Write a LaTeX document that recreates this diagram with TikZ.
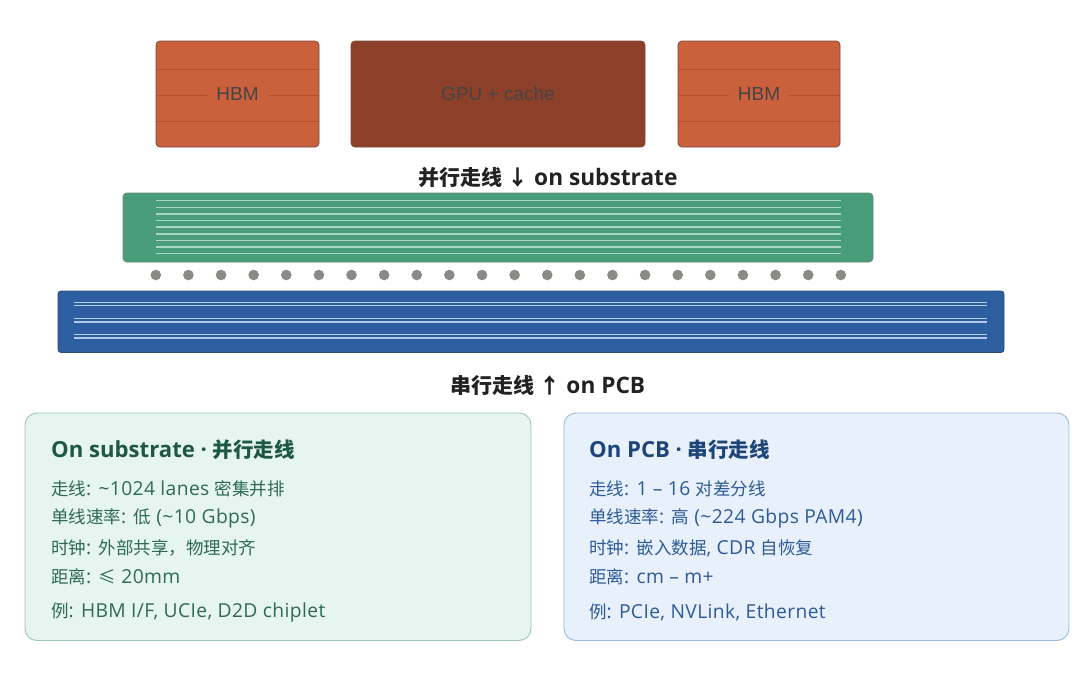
\documentclass[tikz,border=0pt]{standalone}
\usepackage{fontspec}
\setmainfont{Noto Sans CJK SC}
\newfontfamily\latfont[Scale=1.08]{Open Sans}
\newfontfamily\latbody[Scale=1.1,LetterSpace=2]{Open Sans}
\newfontfamily\chipfont{Liberation Sans}
\newcommand\La[1]{{\latfont #1}}
\newcommand\Lb[1]{{\latbody #1}}
\definecolor{hbmc}{HTML}{CB613C}
\definecolor{hbmline}{HTML}{B24F2E}
\definecolor{gpuc}{HTML}{8C4029}
\definecolor{chipborder}{HTML}{7A4A3A}
\definecolor{chiptext}{HTML}{444444}
\definecolor{subc}{HTML}{4A9D79}
\definecolor{subborder}{HTML}{5E8A76}
\definecolor{subline}{HTML}{A9D8C2}
\definecolor{dotc}{HTML}{8A8A86}
\definecolor{pcbc}{HTML}{2D5E9F}
\definecolor{pcbborder}{HTML}{2A4A78}
\definecolor{pcbline}{HTML}{B3C9E8}
\definecolor{headc}{HTML}{222222}
\definecolor{lboxfill}{HTML}{E6F5F0}
\definecolor{lboxdraw}{HTML}{9CC9B4}
\definecolor{ltitle}{HTML}{1E5842}
\definecolor{ltext}{HTML}{2E6A54}
\definecolor{rboxfill}{HTML}{E7F0FB}
\definecolor{rboxdraw}{HTML}{9BB8DE}
\definecolor{rtitle}{HTML}{1F4478}
\definecolor{rtext}{HTML}{2E5B98}
\begin{document}
\begin{tikzpicture}[x=1pt,y=-1pt,
  chip/.style={draw=chipborder, line width=0.8pt, rounded corners=4pt, minimum height=106pt, inner sep=0pt},
  chiplabel/.style={text=chiptext, font=\chipfont\fontsize{19}{21}\selectfont, inner xsep=9pt, inner ysep=3pt},
  hbmrule/.style={draw=hbmline, line width=1pt},
  heading/.style={text=headc, font=\fontsize{21}{24}\selectfont\bfseries, inner sep=0pt},
  infobox/.style={line width=0.9pt, rounded corners=12pt, inner sep=0pt},
  boxtitle/.style={anchor=west, font=\fontsize{20.5}{24}\selectfont\bfseries, inner sep=0pt},
  boxline/.style={anchor=west, font=\fontsize{17.5}{20}\selectfont, inner sep=0pt}
]
\useasboundingbox (0,0) rectangle (1080,675);
\fill[white] (0,0) rectangle (1080,675);

% ---- chips ----
\node[chip, fill=hbmc, minimum width=163pt] (hbmL) at (237.5,94) {};
\node[chip, fill=gpuc, minimum width=294pt] (gpu) at (498,94) {};
\node[chip, fill=hbmc, minimum width=162pt] (hbmR) at (759,94) {};
\foreach \c in {hbmL,hbmR}{
  \draw[hbmrule] ([yshift=-27pt]\c.west) -- ([yshift=-27pt]\c.east);
  \draw[hbmrule] ([yshift=-1pt]\c.west) -- ([yshift=-1pt]\c.east);
  \draw[hbmrule] ([yshift=25pt]\c.west) -- ([yshift=25pt]\c.east);
}
\node[chiplabel, fill=hbmc] (hbmLt) at (hbmL.center) {HBM};
\node[chiplabel] (gput) at (gpu.center) {GPU + cache};
\node[chiplabel, fill=hbmc] (hbmRt) at (hbmR.center) {HBM};

% ---- substrate ----
\node[heading] (subhead) at (548,178) {并行走线 ↓\La{ on substrate}};
\draw[fill=subc, draw=subborder, line width=0.8pt, rounded corners=4pt] (123,193) rectangle (873,262);
\foreach \i in {0,...,8}{
  \draw[subline, line width=1.4pt] (156,200.7+6.62*\i) -- (841,200.7+6.62*\i);
}

% ---- bumps ----
\foreach \i in {0,...,21}{
  \fill[dotc] (155.8+32.62*\i,275) circle (5.3);
}

% ---- PCB ----
\draw[fill=pcbc, draw=pcbborder, line width=0.8pt, rounded corners=3pt] (58,291) rectangle (1004,352.5);
\foreach \y in {302.3,318.6,334.6}{
  \draw[pcbline, line width=1.2pt] (74,\y) -- (987,\y);
  \draw[pcbline, line width=1.2pt] (74,\y+3.4) -- (987,\y+3.4);
}
\node[heading] (pcbhead) at (548,385) {串行走线 ↑\La{ on PCB}};

% ---- left info box ----
\draw[infobox, fill=lboxfill, draw=lboxdraw] (25,413) rectangle (531,640.5);
\node[boxtitle, text=ltitle] (lt) at (51,450) {\La{On substrate · }并行走线};
\node[boxline, text=ltext] (l1) at (51,489) {走线\Lb{: \textasciitilde1024 lanes }密集并排};
\node[boxline, text=ltext] (l2) at (51,518.5) {单线速率\Lb{: }低\Lb{ (\textasciitilde10 Gbps)}};
\node[boxline, text=ltext] (l3) at (51,548) {时钟\Lb{: }外部共享，物理对齐};
\node[boxline, text=ltext] (l4) at (51,577) {距离\Lb{: }≤\Lb{ 20mm}};
\node[boxline, text=ltext] (l5) at (51,612) {例\Lb{: HBM I/F, UCIe, D2D chiplet}};

% ---- right info box ----
\draw[infobox, fill=rboxfill, draw=rboxdraw] (564,413) rectangle (1069,640.5);
\node[boxtitle, text=rtitle] (rt) at (589,450) {\La{On PCB · }串行走线};
\node[boxline, text=rtext] (r1) at (589,489) {走线\Lb{: 1 – 16 }对差分线};
\node[boxline, text=rtext] (r2) at (589,518.5) {单线速率\Lb{: }高\Lb{ (\textasciitilde224 Gbps PAM4)}};
\node[boxline, text=rtext] (r3) at (589,548) {时钟\Lb{: }嵌入数据\Lb{, CDR }自恢复};
\node[boxline, text=rtext] (r4) at (589,577) {距离\Lb{: cm – m+}};
\node[boxline, text=rtext] (r5) at (589,612) {例\Lb{: PCIe, NVLink, Ethernet}};
\end{tikzpicture}
\end{document}
